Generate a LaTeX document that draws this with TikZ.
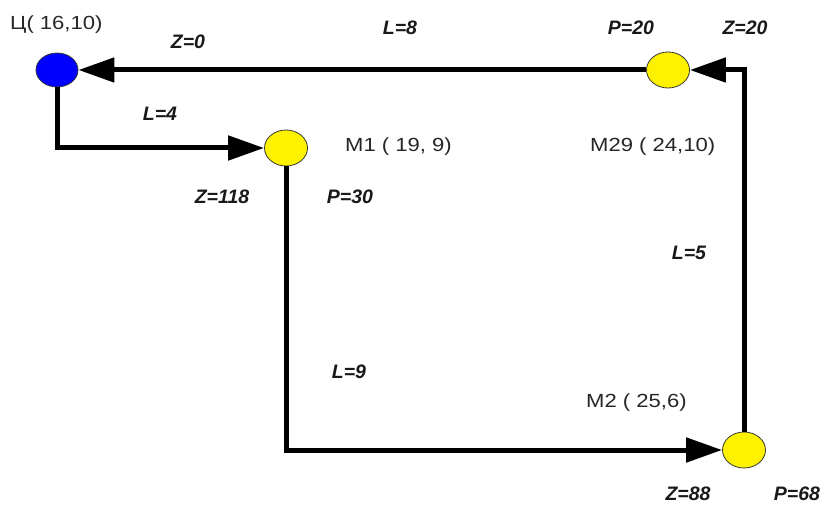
\documentclass[tikz,border=0pt]{standalone}
\usepackage{fontspec}
\setmainfont{Liberation Sans}
\newfontfamily\ptfont[FakeStretch=1.16]{Liberation Sans}
\usetikzlibrary{arrows.meta,shapes.geometric}
\tikzset{
  point/.style={ellipse, draw=black!80, line width=0.8pt, inner sep=0pt},
  depot/.style={point, fill=blue, minimum width=42pt, minimum height=34pt},
  client/.style={point, fill=yellow, minimum width=43pt, minimum height=36pt},
  route/.style={line width=5pt, -{Triangle[length=36pt,width=24pt]}},
  ptlabel/.style={anchor=west, inner sep=0pt, text=black!85,
    font=\ptfont\fontsize{19}{22}\selectfont},
  val/.style={inner sep=0pt, text=black!90,
    font=\bfseries\itshape\fontsize{19.5}{22}\selectfont}
}
\begin{document}
\begin{tikzpicture}[x=1pt,y=1pt]
  \useasboundingbox (0,0) rectangle (826,504);
  % points
  \node[depot]  (c)   at (57,434)  {};
  \node[client] (m29) at (668,434) {};
  \node[client] (m1)  at (286,356) {};
  \node[client] (m2)  at (744,54)  {};
  % route
  \draw[route] (c.south) |- (m1.west);
  \draw[route] (m1.south) |- (m2.west);
  \draw[route] (m2.north) |- (m29.east);
  \draw[route] (m29.west) -- (c.east);
  % point names and coordinates
  \node[ptlabel] (lc)   at (10,479)  {Ц( 16,10)};
  \node[ptlabel] (lm1)  at (345,357) {M1 ( 19, 9)};
  \node[ptlabel] (lm29) at (590,357) {M29 ( 24,10)};
  \node[ptlabel] (lm2)  at (586,101) {M2 ( 25,6)};
  % segment lengths and loads
  \node[val] (z0)   at (188,462) {Z=0};
  \node[val] (l8)   at (400,476) {L=8};
  \node[val] (p20)  at (631,476) {P=20};
  \node[val] (z20)  at (745,476) {Z=20};
  \node[val] (l4)   at (160,390) {L=4};
  \node[val] (z118) at (222,307) {Z=118};
  \node[val] (p30)  at (350,307) {P=30};
  \node[val] (l5)   at (689,251) {L=5};
  \node[val] (l9)   at (349,132) {L=9};
  \node[val] (z88)  at (688,10)  {Z=88};
  \node[val] (p68)  at (797,10)  {P=68};
\end{tikzpicture}
\end{document}
